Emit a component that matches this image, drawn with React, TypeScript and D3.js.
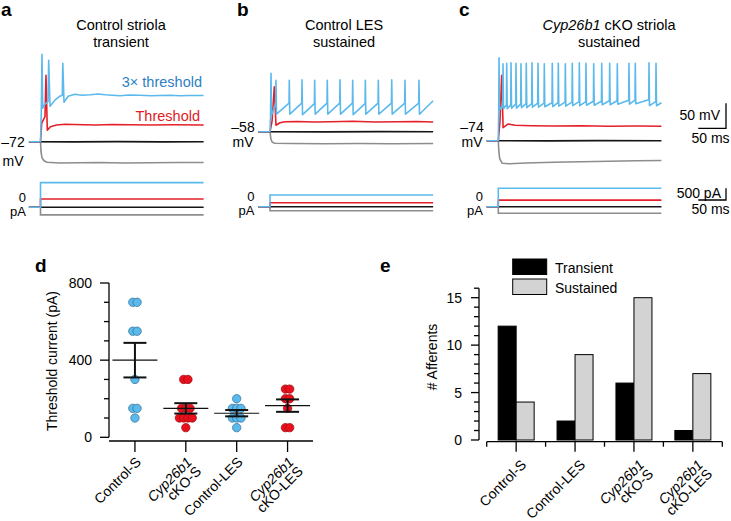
import React from "react";
import * as d3 from "d3";

const FONT = "'Liberation Sans', Arial, Helvetica, sans-serif";

// ---------------- Panels a–c: example recordings ----------------
const restPotentials = [-72, -58, -74]; // mV
const restLabels = ["–72", "–58", "–74"];
const sweepStart = -21; // ms
const sweepEnd = 295; // ms

// voltage traces [ms, mV]
const aBlueV: [number, number][] = [[-21, -72], [0, -72], [1.4, -13], [2.7, 103], [4, -5], [8, 3], [13.6, 8], [14.8, 91], [17.2, -1], [26, 11], [35, 19], [39.4, 21], [40.3, 85], [42.5, 7], [50, 19], [62, 23], [75, 21], [90, 22], [104, 23.5], [117, 22], [130, 21], [144, 20], [160, 21.5], [180, 21], [200, 20], [216, 20.5], [235, 21], [252, 20], [270, 20.5], [295, 20.5]];
const aRedV: [number, number][] = [[-21, -72], [0, -72], [2.2, -35], [8.1, -22], [9.9, 61], [12.3, -49], [18, -42], [29, -38.5], [45, -37], [60, -37.5], [80, -38], [100, -38.5], [130, -37.5], [160, -38], [200, -38.5], [240, -38], [295, -38.5]];
const aBlackV: [number, number][] = [[-21, -72], [60, -72.4], [140, -71.8], [220, -72.3], [295, -72]];
const aGrayV: [number, number][] = [[-21, -72], [0, -72], [0.9, -92], [2.7, -104], [6.3, -110], [11.8, -113], [35, -114.5], [70, -114], [107, -113.5], [150, -114.5], [198, -114], [250, -113.5], [295, -113.5]];

const bBlueSpikeTimes = [1.8, 10.8, 34.9, 57.9, 80.8, 103.6, 126.6, 149.5, 172.4, 195.9, 220.1, 244.1, 269.4];
const bBluePeaks = [59, 45, 45, 46, 45, 45, 46, 45, 45, 45, 46, 45, 45];
const bBlueTroughs = [-25, -23, -23, -24, -23, -23, -23, -24, -23, -23, -23, -23, -23];
const bRedV: [number, number][] = [[-21, -58], [0, -58], [3.6, -38], [7.8, 32], [10.8, -45], [18, -40], [27, -38], [50, -37.5], [80, -38.5], [110, -38], [150, -37], [190, -38.5], [230, -38], [265, -37.5], [295, -38.5]];
const bBlackV: [number, number][] = [[-21, -58], [100, -58.3], [200, -57.8], [295, -58]];
const bGrayV: [number, number][] = [[-21, -58], [0, -58], [1.5, -72], [4, -79], [9, -81], [40, -81.5], [100, -82], [160, -81.5], [220, -82], [295, -81.5]];

const cBlueSpikeTimes = [1.3, 8.5, 15.2, 23.0, 32.0, 41.0, 50.6, 60.9, 71.8, 83.2, 97.6, 108.5, 121.2, 133.8, 146.5, 158.6, 172.5, 187.0, 201.4, 215.2, 236.3, 247.7, 272.5, 285.2];
const cBluePeaks = [92, 80, 81, 82, 81, 80, 81, 82, 81, 80, 81, 81, 80, 81, 82, 81, 80, 81, 81, 80, 81, 81, 82, 81];
const cBlueTroughs = [-12, -10, -10, -9, -9, -8, -8, -7, -7, -6, -6, -5, -5, -4, -4, -3, -3, -2, -2, -1, -1, 0, -4, -4];
const cRedV: [number, number][] = [[-21, -74], [0, -74], [3, -36], [6.1, 57], [8.7, -48], [18, -40.5], [30, -43], [60, -44], [100, -44.5], [150, -44], [200, -45], [250, -44.5], [295, -45]];
const cBlackV: [number, number][] = [[-21, -74], [90, -74.3], [180, -73.8], [295, -74]];
const cGrayV: [number, number][] = [[-21, -74], [0, -74], [1, -95], [2.5, -110], [6.7, -119], [20, -120], [50, -118.5], [100, -117], [150, -116], [200, -115], [250, -114], [295, -113.5]];

// injected current steps (pA), per panel a, b, c
const currentBlue = [1050, 500, 790];
const currentRed = [350, 170, 280];
const currentBlack = [0, 0, 0];
const currentGray = [-330, -170, -280];

// ---------------- Panel d: threshold current ----------------
const thresholdGroups = ["Control-S", "Cyp26b1 cKO-S", "Control-LES", "Cyp26b1 cKO-LES"];
const thresholdControlS = [700, 700, 550, 550, 300, 150, 150, 100];
const thresholdCkoS = [300, 300, 150, 150, 150, 100, 100, 100, 100, 50];
const thresholdControlLES = [200, 150, 150, 150, 100, 100, 100, 50];
const thresholdCkoLES = [250, 250, 200, 200, 150, 50, 50];
const thresholdTicks = [0, 400, 800];

// ---------------- Panel e: afferent counts ----------------
const afferentGroups = ["Control-S", "Control-LES", "Cyp26b1 cKO-S", "Cyp26b1 cKO-LES"];
const transientCounts = [12, 2, 6, 1];
const sustainedCounts = [4, 9, 15, 7];
const afferentTicks = [0, 5, 10, 15];

// ---------------- colours ----------------
const BLUE = "#5cb9ec";
const RED = "#e4202a";
const BLACK = "#151515";
const GRAY = "#8d8d8d";

function buildSpikeTrain(rest: number, onset: [number, number][], times: number[], peaks: number[], troughs: number[], preRise: number, endV: number): [number, number][] {
  const pts: [number, number][] = [[sweepStart, rest], [0, rest], ...onset];
  times.forEach((t, i) => {
    if (i > 0) pts.push([t - 0.5, troughs[i - 1] + preRise]);
    pts.push([t, peaks[i]]);
    pts.push([t + 0.9, troughs[i]]);
  });
  pts.push([sweepEnd, endV]);
  return pts;
}

const bBlueV = buildSpikeTrain(-58, [[1.0, -25]], bBlueSpikeTimes, bBluePeaks, bBlueTroughs, 22, 4);
const cBlueV = buildSpikeTrain(-74, [[0.7, -20]], cBlueSpikeTimes, cBluePeaks, cBlueTroughs, 8, 2);

const voltageSets = [
  [aGrayV, aBlackV, aRedV, aBlueV],
  [bGrayV, bBlackV, bRedV, bBlueV],
  [cGrayV, cBlackV, cRedV, cBlueV],
];
const traceColors = [GRAY, BLACK, RED, BLUE];
const currentSets = [currentGray, currentBlack, currentRed, currentBlue];

const PX_PER_MS = 0.553;
const PX_PER_MV = 0.5;
const PX_PER_PA = 11.7 / 500;

const layouts = [
  { xStep: 40.5, yRest: 141.7, yZero: 207.2, titleX: 121, restX: 13, restY: 146.7, mvY: 166, zeroX: 26, zeroY: 202, paY: 216 },
  { xStep: 270, yRest: 131.7, yZero: 206.7, titleX: 344, restX: 243, restY: 131.5, mvY: 146.5, zeroX: 254.5, zeroY: 201, paY: 215 },
  { xStep: 498.3, yRest: 140.7, yZero: 206.7, titleX: 609, restX: 472, restY: 131.5, mvY: 146.5, zeroX: 483, zeroY: 201, paY: 215 },
];

function TracePanel({ idx }: { idx: number }) {
  const L = layouts[idx];
  const x = d3.scaleLinear().domain([sweepStart, sweepEnd]).range([L.xStep + sweepStart * PX_PER_MS, L.xStep + sweepEnd * PX_PER_MS]);
  const rest = restPotentials[idx];
  const yV = d3.scaleLinear().domain([rest, rest + 50]).range([L.yRest, L.yRest - 50 * PX_PER_MV]);
  const yI = d3.scaleLinear().domain([0, 500]).range([L.yZero, L.yZero - 500 * PX_PER_PA]);
  const lineV = d3.line<[number, number]>().x((d) => x(d[0])).y((d) => yV(d[1]));
  const lineI = d3.line<[number, number]>().x((d) => x(d[0])).y((d) => yI(d[1]));
  return (
    <g>
      {voltageSets[idx].map((pts, k) => (
        <path key={"v" + k} d={lineV(pts) || ""} fill="none" stroke={traceColors[k]} strokeWidth={1.6} strokeLinejoin="round" />
      ))}
      {currentSets.map((arr, k) => {
        const lvl = arr[idx];
        const pts: [number, number][] = [[sweepStart, 0], [0, 0], [0, lvl], [sweepEnd, lvl]];
        return <path key={"i" + k} d={lineI(pts) || ""} fill="none" stroke={traceColors[k]} strokeWidth={1.6} />;
      })}
      <text x={L.restX} y={L.restY} fontSize={14} textAnchor="middle">{restLabels[idx]}</text>
      <text x={L.restX} y={L.mvY} fontSize={14} textAnchor="middle">mV</text>
      <text x={L.zeroX} y={L.zeroY} fontSize={13} textAnchor="end">0</text>
      <text x={L.zeroX} y={L.paY} fontSize={13} textAnchor="end">pA</text>
    </g>
  );
}

function XLabel({ x, y, label }: { x: number; y: number; label: string }) {
  const lines = label.startsWith("Cyp26b1") ? ["Cyp26b1", label.replace("Cyp26b1 ", "")] : [label];
  const step = 13 * Math.SQRT1_2;
  return (
    <g>
      {lines.map((ln, i) => (
        <text key={i} transform={`translate(${x + i * step},${y + i * step}) rotate(-45)`} textAnchor="end" fontSize={14} fontStyle={ln === "Cyp26b1" ? "italic" : "normal"}>
          {ln}
        </text>
      ))}
    </g>
  );
}

function PanelD() {
  const y = d3.scaleLinear().domain([0, 800]).range([437.3, 283]);
  const x = d3.scaleBand().domain(thresholdGroups).range([109.5, 313]);
  const groupsData = [thresholdControlS, thresholdCkoS, thresholdControlLES, thresholdCkoLES];
  const fills = [BLUE, "#e8101c", BLUE, "#e8101c"];
  const strokes = ["#2f6f95", "#9c0d12", "#2f6f95", "#9c0d12"];
  const axisX = 109;
  const axisY = 441;
  const minor = d3.range(0, 801, 100);
  return (
    <g>
      <line x1={axisX} x2={axisX} y1={y(800)} y2={y(0)} stroke="#000" strokeWidth={1.3} />
      {minor.map((v) => (
        <line key={v} x1={axisX - (thresholdTicks.includes(v) ? 9 : 5)} x2={axisX} y1={y(v)} y2={y(v)} stroke="#000" strokeWidth={1.3} />
      ))}
      {thresholdTicks.map((v) => (
        <text key={v} x={92} y={y(v) + 5} fontSize={14} textAnchor="end">{v}</text>
      ))}
      <line x1={axisX} x2={313} y1={axisY} y2={axisY} stroke="#000" strokeWidth={1.3} />
      {thresholdGroups.map((g) => {
        const cx = (x(g) as number) + x.bandwidth() / 2;
        return (
          <g key={g}>
            <line x1={cx} x2={cx} y1={axisY} y2={axisY + 11} stroke="#000" strokeWidth={1.3} />
            <XLabel x={cx + 7} y={axisY + 22} label={g} />
          </g>
        );
      })}
      <text transform={`translate(57,361) rotate(-90)`} textAnchor="middle" fontSize={14}>Threshold current (pA)</text>
      {groupsData.map((vals, gi) => {
        const g = thresholdGroups[gi];
        const cx = (x(g) as number) + x.bandwidth() / 2;
        const counts = d3.rollup(vals, (v) => v.length, (v) => v);
        const seen = new Map<number, number>();
        const m = d3.mean(vals) as number;
        const sem = (d3.deviation(vals) as number) / Math.sqrt(vals.length);
        return (
          <g key={g}>
            {vals.map((v, i) => {
              const n = counts.get(v) as number;
              const k = seen.get(v) || 0;
              seen.set(v, k + 1);
              const off = (k - (n - 1) / 2) * 4.3;
              return <circle key={i} cx={cx + off} cy={y(v)} r={4.2} fill={fills[gi]} stroke={strokes[gi]} strokeWidth={0.7} />;
            })}
            <line x1={cx - 22.5} x2={cx + 22.5} y1={y(m)} y2={y(m)} stroke="#111" strokeWidth={1.1} />
            <line x1={cx} x2={cx} y1={y(m + sem)} y2={y(m - sem)} stroke="#111" strokeWidth={2} />
            <line x1={cx - 11.5} x2={cx + 11.5} y1={y(m + sem)} y2={y(m + sem)} stroke="#111" strokeWidth={2} />
            <line x1={cx - 11.5} x2={cx + 11.5} y1={y(m - sem)} y2={y(m - sem)} stroke="#111" strokeWidth={2} />
          </g>
        );
      })}
    </g>
  );
}

function PanelE() {
  const y = d3.scaleLinear().domain([0, 16]).range([440, 288.2]);
  const x = d3.scaleBand().domain(afferentGroups).range([486.7, 722.3]);
  const sub = d3.scaleBand().domain(["Transient", "Sustained"]).range([-18, 18]);
  const axisX = 479;
  const axisY = 441.7;
  const minor = d3.range(0, 17, 1);
  return (
    <g>
      <line x1={axisX} x2={axisX} y1={y(16)} y2={y(0)} stroke="#000" strokeWidth={1.3} />
      {minor.map((v) => (
        <line key={v} x1={axisX - (afferentTicks.includes(v) ? 8 : 5)} x2={axisX} y1={y(v)} y2={y(v)} stroke="#000" strokeWidth={1.3} />
      ))}
      {afferentTicks.map((v) => (
        <text key={v} x={462} y={y(v) + 5} fontSize={14} textAnchor="end">{v}</text>
      ))}
      <text transform={`translate(437,357) rotate(-90)`} textAnchor="middle" fontSize={14}># Afferents</text>
      {afferentGroups.map((g, i) => {
        const c = (x(g) as number) + x.bandwidth() / 2;
        return (
          <g key={g}>
            <rect x={c + (sub("Transient") as number)} y={y(transientCounts[i])} width={sub.bandwidth()} height={y(0) - y(transientCounts[i])} fill="#000" stroke="#000" strokeWidth={1} />
            <rect x={c + (sub("Sustained") as number)} y={y(sustainedCounts[i])} width={sub.bandwidth()} height={y(0) - y(sustainedCounts[i])} fill="#d3d3d3" stroke="#000" strokeWidth={1} />
          </g>
        );
      })}
      <line x1={486.7} x2={722.3} y1={axisY} y2={axisY} stroke="#000" strokeWidth={1.3} />
      {afferentGroups.map((g) => (
        <line key={"b" + g} x1={x(g) as number} x2={x(g) as number} y1={axisY} y2={axisY + 5} stroke="#000" strokeWidth={1.3} />
      ))}
      <line x1={722.3} x2={722.3} y1={axisY} y2={axisY + 5} stroke="#000" strokeWidth={1.3} />
      {afferentGroups.map((g) => {
        const c = (x(g) as number) + x.bandwidth() / 2;
        return (
          <g key={"t" + g}>
            <line x1={c} x2={c} y1={axisY} y2={axisY + 10} stroke="#000" strokeWidth={1.3} />
            <XLabel x={c + 11} y={axisY + 24} label={g} />
          </g>
        );
      })}
      <rect x={512.7} y={259} width={34} height={15.5} fill="#000" stroke="#000" />
      <rect x={512.7} y={279} width={34} height={15.5} fill="#d3d3d3" stroke="#000" />
      <text x={555} y={273} fontSize={14}>Transient</text>
      <text x={555} y={293} fontSize={14}>Sustained</text>
    </g>
  );
}

export default function App() {
  return (
    <svg width={731} height={521} style={{ position: "absolute", left: 0, top: 0, background: "#fff" }} fontFamily={FONT}>
      <rect width={731} height={521} fill="#fff" />
      {/* panel letters */}
      <text x={1} y={16} fontSize={19} fontWeight="bold">a</text>
      <text x={237} y={16} fontSize={19} fontWeight="bold">b</text>
      <text x={459} y={16} fontSize={19} fontWeight="bold">c</text>
      <text x={35} y={272} fontSize={19} fontWeight="bold">d</text>
      <text x={380} y={272} fontSize={19} fontWeight="bold">e</text>

      {/* titles */}
      <text x={layouts[0].titleX} y={30} fontSize={14.5} textAnchor="middle">Control striola</text>
      <text x={layouts[0].titleX} y={46.5} fontSize={14.5} textAnchor="middle">transient</text>
      <text x={layouts[1].titleX} y={30} fontSize={14.5} textAnchor="middle">Control LES</text>
      <text x={layouts[1].titleX} y={46.5} fontSize={14.5} textAnchor="middle">sustained</text>
      <text x={layouts[2].titleX} y={30} fontSize={14.5} textAnchor="middle">
        <tspan fontStyle="italic">Cyp26b1</tspan> cKO striola
      </text>
      <text x={layouts[2].titleX} y={46.5} fontSize={14.5} textAnchor="middle">sustained</text>

      <TracePanel idx={0} />
      <TracePanel idx={1} />
      <TracePanel idx={2} />

      <text x={202} y={87} fontSize={14.5} textAnchor="end" fill="#2d7fc4">3× threshold</text>
      <text x={200} y={120.5} fontSize={14.5} textAnchor="end" fill="#e0201e">Threshold</text>

      {/* scale bars */}
      <path d="M726,103.3 V128.3 H698.3" fill="none" stroke="#000" strokeWidth={1.3} />
      <text x={720} y={120} fontSize={14} textAnchor="end">50 mV</text>
      <text x={691.5} y={143.3} fontSize={14}>50 ms</text>
      <path d="M726,188.3 V200 H698.3" fill="none" stroke="#000" strokeWidth={1.3} />
      <text x={721} y={197.5} fontSize={14} textAnchor="end">500 pA</text>
      <text x={691.5} y={213.5} fontSize={14}>50 ms</text>

      <PanelD />
      <PanelE />
    </svg>
  );
}
